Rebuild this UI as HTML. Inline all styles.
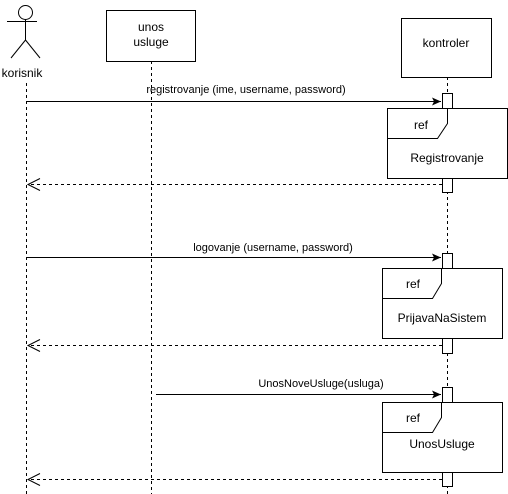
<!DOCTYPE html>
<html><head><meta charset="utf-8"><style>html,body{margin:0;padding:0;background:#fff}svg{display:block}text{font-family:"Liberation Sans",Arial,sans-serif;fill:#000}</style></head><body>
<svg width="508" height="494" viewBox="0 0 508 494" xmlns="http://www.w3.org/2000/svg">
<defs><marker id="a" markerWidth="10" markerHeight="10" refX="9" refY="5" orient="auto" markerUnits="userSpaceOnUse"><path d="M0,1 L9,5 L0,9 L2,5 Z" fill="#000"/></marker></defs>
<g stroke="#000" stroke-width="1" fill="none">
<!-- actor -->
<circle cx="25.5" cy="12.5" r="7"/>
<line x1="25.5" y1="19.5" x2="25.5" y2="40"/>
<line x1="7" y1="21.5" x2="37" y2="21.5"/>
<line x1="25.5" y1="40" x2="11" y2="58"/>
<line x1="25.5" y1="40" x2="40" y2="58"/>
<!-- lifelines -->
<line x1="26.5" y1="83" x2="26.5" y2="494" stroke-dasharray="3,3"/>
<line x1="151.5" y1="61" x2="151.5" y2="494" stroke-dasharray="3,3"/>
<line x1="447.5" y1="77" x2="447.5" y2="494" stroke-dasharray="3,3"/>
<!-- boxes -->
<rect x="106.5" y="10.5" width="89" height="51" fill="#fff"/>
<rect x="401.5" y="18.5" width="90" height="59" fill="#fff"/>
<!-- activations -->
<rect x="442.5" y="93.5" width="10" height="99" fill="#fff"/>
<rect x="442.5" y="253.5" width="10" height="100" fill="#fff"/>
<rect x="442.5" y="387.5" width="10" height="99" fill="#fff"/>
<!-- frames -->
<rect x="387.5" y="108.5" width="120" height="70" fill="#fff"/>
<path d="M387.5,138.5 H437.5 L447.5,123.5 V108.5"/>
<rect x="382.5" y="268.5" width="120" height="70" fill="#fff"/>
<path d="M382.5,298.5 H432.5 L441.5,283.5 V268.5"/>
<rect x="382.5" y="402.5" width="120" height="70" fill="#fff"/>
<path d="M382.5,432.5 H432.5 L441.5,417.5 V402.5"/>
<!-- messages -->
<line x1="26.5" y1="101.5" x2="441" y2="101.5" marker-end="url(#a)"/>
<line x1="26.5" y1="257.5" x2="441" y2="257.5" marker-end="url(#a)"/>
<line x1="156" y1="394.5" x2="441" y2="394.5" marker-end="url(#a)"/>
<!-- returns -->
<line x1="442" y1="184.5" x2="28" y2="184.5" stroke-dasharray="3,3"/>
<path d="M40,178.5 L28,184.5 L40,190.5"/>
<line x1="442" y1="345.5" x2="28" y2="345.5" stroke-dasharray="3,3"/>
<path d="M40,339.5 L28,345.5 L40,351.5"/>
<line x1="442" y1="479.5" x2="28" y2="479.5" stroke-dasharray="3,3"/>
<path d="M40,473.5 L28,479.5 L40,485.5"/>
</g>
<g font-size="12" text-anchor="middle">
<text x="22" y="77">korisnik</text>
<text x="151" y="31">unos</text>
<text x="151" y="46">usluge</text>
<text x="446" y="47">kontroler</text>
<text x="447" y="162">Registrovanje</text>
<text x="442" y="322">PrijavaNaSistem</text>
<text x="442" y="448">UnosUsluge</text>
<text x="421" y="129">ref</text>
<text x="413" y="288">ref</text>
<text x="413" y="422">ref</text>
</g>
<g font-size="11" text-anchor="middle">
<text x="246" y="93">registrovanje (ime, username, password)</text>
<text x="273" y="251">logovanje (username, password)</text>
<text x="321" y="387">UnosNoveUsluge(usluga)</text>
</g>
</svg>
</body></html>
